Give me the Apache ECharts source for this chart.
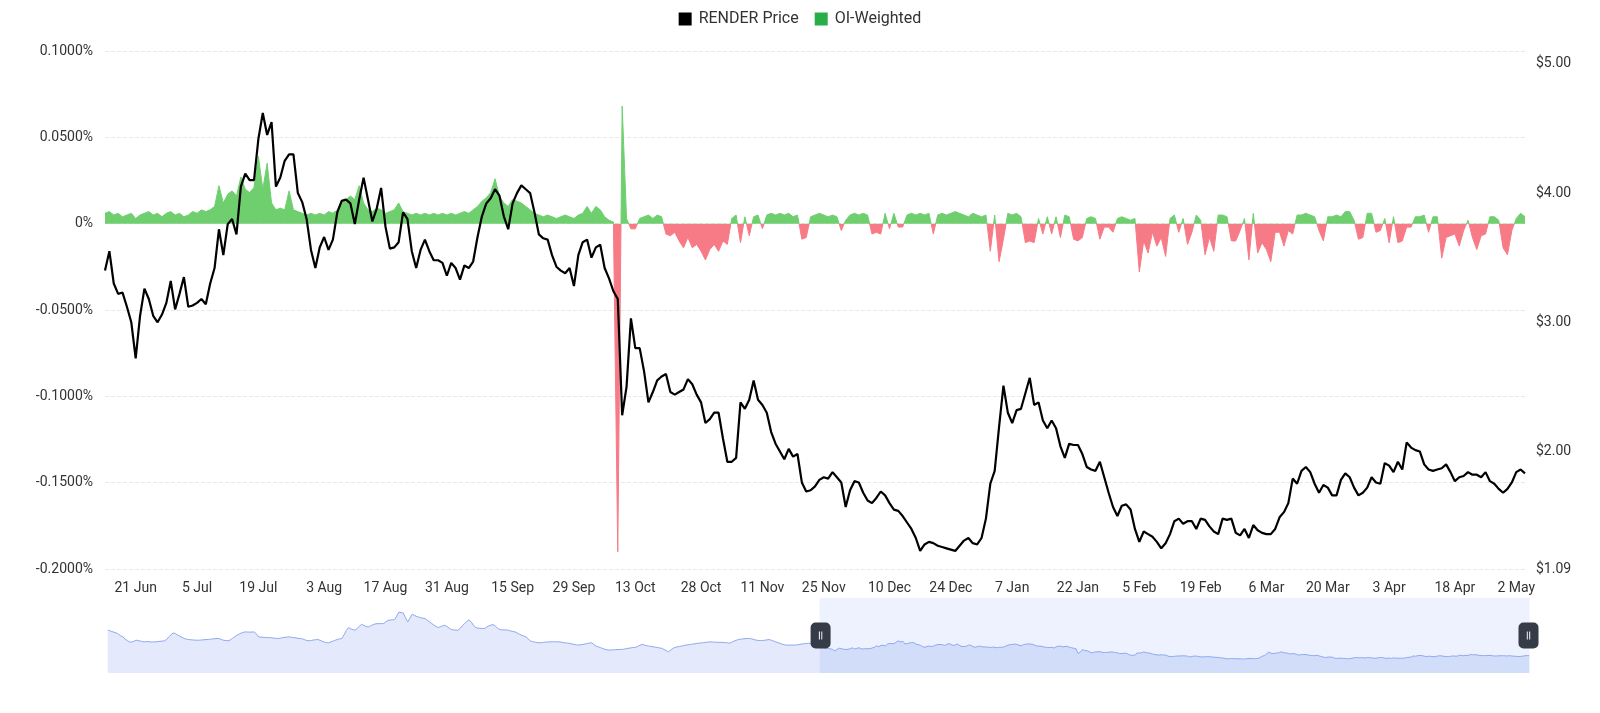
<!DOCTYPE html>
<html>
<head>
<meta charset="utf-8">
<script src="https://cdn.jsdelivr.net/npm/echarts@6/dist/echarts.min.js"></script>
<style>
  html, body { margin: 0; padding: 0; background: #ffffff; }
  #chart { width: 1600px; height: 713px; }
</style>
</head>
<body>
<div id="chart"></div>
<script>
// ---- DATA (daily) ----
// first category date; the chart covers hiddenPrice + renderPrice days
const startDate = '2024-07-24';

// RENDER price before the zoom window (only seen in the slider preview)
const hiddenPrice = [
  6.64, 6.55, 6.40, 6.25, 6.13, 5.90, 5.60, 5.39, 5.00, 4.70,
  4.45, 4.40, 4.55, 4.77, 4.70, 4.60, 4.50, 4.45, 4.50, 4.48,
  4.42, 4.45, 4.45, 4.50, 4.55, 4.60, 4.64, 4.90, 5.39, 5.80,
  6.13, 6.00, 5.75, 5.52, 5.30, 5.10, 4.95, 4.89, 4.85, 4.80,
  4.78, 4.75, 4.77, 4.80, 4.85, 4.88, 4.89, 4.95, 5.00, 5.05,
  5.08, 5.05, 4.90, 4.75, 4.70, 4.64, 4.80, 5.10, 5.40, 5.70,
  5.90, 6.10, 6.25, 6.32, 6.30, 6.28, 6.30, 6.32, 5.90, 5.39,
  5.35, 5.30, 5.28, 5.25, 5.27, 5.20, 5.15, 5.10, 5.08, 5.15,
  5.25, 5.30, 5.35, 5.39, 5.30, 5.25, 5.20, 5.10, 5.08, 5.00,
  4.85, 4.70, 4.64, 4.70, 4.80, 4.85, 4.89, 4.75, 4.55, 4.40,
  4.30, 4.27, 4.45, 4.60, 4.77, 4.90, 5.00, 5.08, 5.80, 6.60,
  7.14, 6.90, 6.75, 6.64, 7.00, 7.40, 7.76, 7.55, 7.35, 7.25,
  7.45, 7.65, 7.80, 7.89, 7.85, 7.90, 7.89, 8.20, 8.50, 8.55,
  8.60, 8.63, 9.30, 10.06, 9.95, 9.88, 9.00, 8.19, 8.90, 9.63,
  9.45, 9.25, 9.12, 9.00, 8.90, 8.82, 8.50, 8.20, 7.89, 7.60,
  7.35, 7.14, 7.30, 7.45, 7.57, 7.30, 7.00, 6.77, 6.70, 6.65,
  6.64, 7.00, 7.50, 7.89, 8.30, 8.60, 8.20, 7.60, 7.14, 7.05,
  7.00, 6.98, 6.95, 7.20, 7.45, 7.60, 7.70, 7.40, 7.05, 6.77,
  6.72, 6.70, 6.68, 6.64, 6.50, 6.40, 6.32, 6.10, 5.90, 5.70,
  5.55, 5.39, 5.00, 4.64, 4.50, 4.40, 4.30, 4.27, 4.30, 4.35,
  4.40, 4.42, 4.45, 4.48, 4.46, 4.45, 4.45, 4.40, 4.30, 4.25,
  4.20, 4.15, 4.05, 3.95, 3.90, 3.84, 3.90, 3.95, 4.05, 4.15,
  4.22, 4.27, 3.95, 3.65, 3.50, 3.35, 3.20, 3.05, 2.95, 2.90,
  2.92, 2.95, 2.98, 3.00, 3.02, 3.03, 3.10, 3.18, 3.25, 3.33,
  3.38, 3.41, 3.60, 3.80, 3.97, 3.85, 3.75, 3.65, 3.58, 3.52,
  3.45, 3.38, 3.30, 3.22, 3.00, 2.80, 2.58, 2.90, 3.20, 3.41,
  3.50, 3.58, 3.66, 3.75, 3.84, 3.90, 3.96, 4.02, 4.08, 4.15,
  4.20, 4.25, 4.30, 4.35, 4.40, 4.45, 4.42, 4.40, 4.38, 4.36,
  4.35, 4.34, 4.30, 4.25, 4.20, 4.40, 4.60, 4.75, 4.89, 4.95,
  5.00, 5.05, 5.08, 5.08, 5.00, 4.90, 4.77, 4.72, 4.70, 4.70,
  4.75, 4.82, 4.89, 4.75, 4.60, 4.45, 4.30, 4.15, 4.00, 3.90,
  3.84, 3.82, 3.84, 3.85, 3.84, 3.90, 3.98, 4.05, 4.10, 4.15,
  4.18, 4.15, 4.15, 3.95, 3.70
];

// RENDER price inside the zoom window (14 Jun 2025 .. 4 May 2026)
const renderPrice = [
  3.40, 3.55, 3.30, 3.22, 3.23, 3.12, 3.00, 2.72, 3.05, 3.26,
  3.18, 3.05, 3.00, 3.06, 3.15, 3.32, 3.10, 3.22, 3.35, 3.12,
  3.13, 3.15, 3.18, 3.14, 3.30, 3.42, 3.72, 3.52, 3.76, 3.80,
  3.68, 4.05, 4.15, 4.10, 4.10, 4.42, 4.62, 4.45, 4.55, 4.05,
  4.12, 4.25, 4.30, 4.30, 4.00, 3.93, 3.80, 3.56, 3.42, 3.58,
  3.66, 3.56, 3.64, 3.85, 3.94, 3.95, 3.92, 3.76, 3.95, 4.12,
  3.95, 3.78, 3.88, 4.04, 3.74, 3.57, 3.58, 3.62, 3.85, 3.80,
  3.55, 3.42, 3.56, 3.64, 3.55, 3.48, 3.48, 3.46, 3.36, 3.46,
  3.42, 3.33, 3.44, 3.42, 3.47, 3.66, 3.82, 3.92, 3.96, 4.03,
  3.98, 3.82, 3.72, 3.92, 4.00, 4.06, 4.03, 4.00, 3.85, 3.68,
  3.65, 3.64, 3.52, 3.43, 3.40, 3.38, 3.42, 3.28, 3.52, 3.62,
  3.64, 3.50, 3.58, 3.60, 3.42, 3.34, 3.24, 3.18, 2.28, 2.50,
  3.03, 2.80, 2.80, 2.62, 2.38, 2.46, 2.55, 2.58, 2.60, 2.46,
  2.44, 2.46, 2.48, 2.56, 2.52, 2.44, 2.38, 2.22, 2.25, 2.30,
  2.30, 2.10, 1.92, 1.92, 1.95, 2.38, 2.33, 2.40, 2.55, 2.40,
  2.36, 2.30, 2.15, 2.06, 2.00, 1.94, 2.02, 1.96, 1.98, 1.76,
  1.69, 1.70, 1.73, 1.78, 1.80, 1.79, 1.84, 1.80, 1.76, 1.57,
  1.70, 1.77, 1.76, 1.68, 1.62, 1.60, 1.64, 1.69, 1.66, 1.60,
  1.55, 1.54, 1.50, 1.45, 1.40, 1.33, 1.23, 1.28, 1.30, 1.29,
  1.27, 1.26, 1.25, 1.24, 1.23, 1.27, 1.31, 1.33, 1.29, 1.28,
  1.33, 1.48, 1.75, 1.85, 2.19, 2.51, 2.30, 2.22, 2.32, 2.33,
  2.45, 2.57, 2.36, 2.38, 2.24, 2.18, 2.24, 2.18, 2.04, 1.95,
  2.06, 2.05, 2.05, 1.98, 1.88, 1.86, 1.85, 1.92, 1.80, 1.68,
  1.57, 1.50, 1.58, 1.59, 1.55, 1.40, 1.30, 1.38, 1.36, 1.34,
  1.30, 1.25, 1.29, 1.36, 1.46, 1.48, 1.44, 1.46, 1.46, 1.40,
  1.48, 1.47, 1.42, 1.38, 1.36, 1.48, 1.47, 1.48, 1.37, 1.35,
  1.40, 1.33, 1.43, 1.39, 1.37, 1.36, 1.36, 1.40, 1.49, 1.53,
  1.60, 1.79, 1.75, 1.85, 1.88, 1.84, 1.75, 1.68, 1.74, 1.72,
  1.66, 1.66, 1.78, 1.83, 1.80, 1.72, 1.66, 1.68, 1.72, 1.80,
  1.76, 1.75, 1.91, 1.89, 1.84, 1.92, 1.86, 2.07, 2.03, 2.01,
  2.00, 1.90, 1.86, 1.85, 1.86, 1.87, 1.90, 1.84, 1.77, 1.80,
  1.81, 1.84, 1.82, 1.82, 1.80, 1.84, 1.77, 1.75, 1.71, 1.68,
  1.71, 1.76, 1.84, 1.86, 1.83
];

// OI-weighted funding rate, % (same days as renderPrice)
const oiWeighted = [
  0.006, 0.007, 0.005, 0.006, 0.004, 0.005, 0.006, 0.003, 0.005, 0.006,
  0.007, 0.005, 0.006, 0.004, 0.006, 0.007, 0.005, 0.006, 0.004, 0.005,
  0.007, 0.006, 0.008, 0.007, 0.008, 0.010, 0.022, 0.012, 0.017, 0.019,
  0.016, 0.027, 0.020, 0.018, 0.021, 0.039, 0.020, 0.035, 0.012, 0.008,
  0.009, 0.008, 0.019, 0.008, 0.007, 0.006, 0.005, 0.006, 0.005, 0.006,
  0.005, 0.007, 0.006, 0.008, 0.013, 0.014, 0.016, 0.014, 0.022, 0.012,
  0.008, 0.007, 0.009, 0.008, 0.006, 0.007, 0.008, 0.012, 0.007, 0.006,
  0.005, 0.006, 0.005, 0.006, 0.005, 0.006, 0.005, 0.006, 0.005, 0.006,
  0.005, 0.006, 0.007, 0.006, 0.008, 0.010, 0.013, 0.015, 0.018, 0.026,
  0.016, 0.012, 0.010, 0.014, 0.013, 0.012, 0.010, 0.008, 0.006, 0.005,
  0.004, 0.005, 0.004, 0.003, 0.004, 0.005, 0.004, 0.003, 0.005, 0.006,
  0.010, 0.006, 0.010, 0.008, 0.004, 0.002, 0.001, -0.190, 0.068, 0.003,
  -0.003, -0.003, 0.003, 0.004, 0.005, 0.003, 0.005, 0.004, -0.006, -0.007,
  -0.005, -0.010, -0.014, -0.008, -0.014, -0.012, -0.016, -0.021, -0.015, -0.012,
  -0.016, -0.010, -0.012, 0.003, 0.005, -0.011, 0.004, -0.007, 0.004, 0.005,
  -0.003, 0.005, 0.006, 0.005, 0.006, 0.005, 0.006, 0.004, 0.005, -0.009,
  -0.008, 0.004, 0.005, 0.006, 0.005, 0.004, 0.005, 0.004, -0.004, 0.002,
  0.005, 0.006, 0.005, 0.006, 0.005, -0.006, -0.005, -0.006, 0.006, -0.003,
  0.006, -0.002, -0.002, 0.005, 0.006, 0.005, 0.006, 0.005, 0.006, -0.006,
  0.005, 0.006, 0.005, 0.006, 0.007, 0.006, 0.005, 0.004, 0.006, 0.005,
  0.004, 0.005, -0.016, 0.005, -0.022, -0.009, 0.006, 0.005, 0.006, 0.004,
  -0.011, -0.010, -0.011, 0.003, -0.006, 0.004, -0.006, 0.004, -0.008, 0.005,
  0.004, -0.009, -0.010, -0.008, 0.003, 0.004, 0.003, -0.009, -0.002, -0.002,
  -0.005, 0.003, 0.004, 0.003, 0.002, 0.003, -0.028, -0.010, -0.017, -0.005,
  -0.013, -0.008, -0.019, 0.003, 0.005, -0.005, 0.003, -0.012, -0.005, 0.005,
  0.002, -0.018, -0.008, -0.016, 0.005, 0.005, 0.004, -0.010, -0.010, -0.004,
  0.003, -0.021, 0.006, -0.017, -0.011, -0.015, -0.022, -0.005, -0.005, -0.013,
  -0.004, -0.006, 0.005, 0.005, 0.006, 0.005, 0.004, -0.004, -0.010, 0.004,
  0.004, 0.005, 0.004, 0.007, 0.007, 0.002, -0.009, -0.008, 0.006, 0.006,
  -0.005, -0.004, 0.003, -0.011, 0.004, -0.011, -0.010, -0.002, -0.002, 0.004,
  0.004, 0.005, -0.005, 0.004, 0.004, -0.020, -0.008, -0.007, -0.006, -0.013,
  -0.004, 0.002, -0.008, -0.015, -0.007, -0.006, 0.004, 0.004, 0.002, -0.014,
  -0.018, -0.004, 0.003, 0.006, 0.004
];

// dates shown as x-axis tick labels
const tickDates = [
  '2025-06-21', '2025-07-05', '2025-07-19', '2025-08-03', '2025-08-17', '2025-08-31',
  '2025-09-15', '2025-09-29', '2025-10-13', '2025-10-28', '2025-11-11', '2025-11-25',
  '2025-12-10', '2025-12-24', '2026-01-07', '2026-01-22', '2026-02-05', '2026-02-19',
  '2026-03-06', '2026-03-20', '2026-04-03', '2026-04-18', '2026-05-02'
];

// left-axis (funding) ticks and right-axis (price) range
const rateMin = -0.2, rateMax = 0.1, rateStep = 0.05;
const priceMin = 1.09, priceMax = 5.1;

// ---- BUILD ----
const monthNames = ['Jan','Feb','Mar','Apr','May','Jun','Jul','Aug','Sep','Oct','Nov','Dec'];
const totalDays = hiddenPrice.length + renderPrice.length;
const t0 = Date.parse(startDate + 'T00:00:00Z');
const dates = [];
for (let k = 0; k < totalDays; k++) {
  dates.push(new Date(t0 + k * 86400000).toISOString().slice(0, 10));
}
const visibleDates = dates.slice(hiddenPrice.length);
const allPrice = hiddenPrice.concat(renderPrice);
const fundingData = visibleDates.map((d, i) => [d, oiWeighted[i]]);
const tickSet = new Set(tickDates);
function fmtDate(d) {
  const p = d.split('-');
  return parseInt(p[2], 10) + ' ' + monthNames[parseInt(p[1], 10) - 1];
}

const FONT = 'Roboto, "Noto Sans", sans-serif';
const GREEN = '#6fcf6f';
const RED = '#f77b87';

const chart = echarts.init(document.getElementById('chart'), null, { renderer: 'canvas' });
chart.setOption({
  animation: false,
  textStyle: { fontFamily: FONT },
  legend: {
    top: 6,
    left: 'center',
    icon: 'rect',
    itemWidth: 13,
    itemHeight: 13,
    itemGap: 16,
    textStyle: { fontSize: 16, color: '#333', fontFamily: FONT, padding: [0, 0, 0, 2] },
    data: ['RENDER Price', 'OI-Weighted']
  },
  grid: { left: 105, right: 75, top: 51, bottom: 144, containLabel: false },
  xAxis: {
    type: 'category',
    boundaryGap: false,
    data: dates,
    axisLine: { show: false },
    axisTick: { show: false },
    splitLine: { show: false },
    axisLabel: {
      interval: (idx, val) => tickSet.has(val),
      formatter: (val) => fmtDate(val),
      fontSize: 14,
      color: '#333',
      margin: 12,
      fontFamily: FONT
    }
  },
  yAxis: [
    {
      type: 'value',
      position: 'left',
      min: rateMin,
      max: rateMax,
      interval: rateStep,
      axisLine: { show: false },
      axisTick: { show: false },
      axisLabel: {
        fontSize: 14, color: '#333', margin: 12, fontFamily: FONT,
        formatter: (v) => (Math.abs(v) < 1e-9 ? '0%' : v.toFixed(4) + '%')
      },
      splitLine: { show: true, lineStyle: { color: '#e8e8e8', type: 'dashed', width: 1 } }
    },
    {
      type: 'value',
      position: 'right',
      min: priceMin,
      max: priceMax,
      axisLine: { show: false },
      axisTick: { show: false },
      splitLine: { show: false },
      axisLabel: {
        fontSize: 14, color: '#333', margin: 11, fontFamily: FONT,
        showMaxLabel: false,
        formatter: (v) => '$' + v.toFixed(2)
      }
    }
  ],
  visualMap: {
    show: false,
    type: 'piecewise',
    seriesIndex: 1,
    dimension: 1,
    pieces: [
      { gte: -1, lt: 0, color: RED },
      { gte: 0, lte: 1, color: GREEN }
    ]
  },
  dataZoom: [
    {
      type: 'slider',
      xAxisIndex: 0,
      startValue: visibleDates[0],
      endValue: visibleDates[visibleDates.length - 1],
      left: 105,
      right: 73,
      top: 598,
      height: 75,
      showDetail: false,
      brushSelect: false,
      moveHandleSize: 0,
      borderColor: 'transparent',
      backgroundColor: 'transparent',
      fillerColor: 'rgba(135,165,245,0.14)',
      handleIcon: 'path://M5,0 H15 A5,5 0 0 1 20,5 V21 A5,5 0 0 1 15,26 H5 A5,5 0 0 1 0,21 V5 A5,5 0 0 1 5,0 Z M8.3,9 V17 H9.3 V9 Z M10.7,9 V17 H11.7 V9 Z',
      handleSize: 26,
      handleStyle: { color: '#353b47', borderColor: '#353b47', borderWidth: 0 },
      dataBackground: {
        lineStyle: { color: '#8fa8ee', width: 1, opacity: 1 },
        areaStyle: { color: '#e4eafb', opacity: 1 }
      },
      selectedDataBackground: {
        lineStyle: { color: '#8fa8ee', width: 1, opacity: 1 },
        areaStyle: { color: '#c9d6f7', opacity: 0.6 }
      }
    }
  ],
  series: [
    {
      name: 'RENDER Price',
      type: 'line',
      yAxisIndex: 1,
      data: allPrice,
      showSymbol: false,
      symbol: 'none',
      color: '#000000',
      lineStyle: { color: '#000000', width: 2.2 },
      z: 5
    },
    {
      name: 'OI-Weighted',
      type: 'line',
      yAxisIndex: 0,
      data: fundingData,
      showSymbol: false,
      symbol: 'none',
      color: '#27ae49',
      lineStyle: { width: 1 },
      areaStyle: { opacity: 1 },
      z: 2
    }
  ]
});
</script>
</body>
</html>
